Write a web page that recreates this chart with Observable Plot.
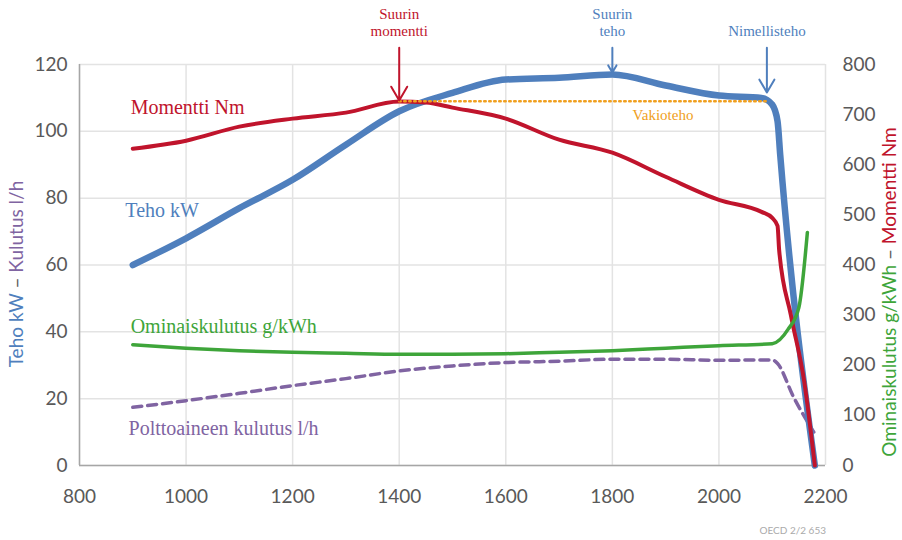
<!DOCTYPE html>
<html><head><meta charset="utf-8">
<script src="https://cdn.jsdelivr.net/npm/d3@7"></script>
<script src="https://cdn.jsdelivr.net/npm/@observablehq/plot@0.6"></script>
<style>body{margin:0;background:#fff} #chart{width:902px;height:540px}</style>
</head><body><div id="chart"></div>
<script>
// ---- data ----
const xTicks = [800, 1000, 1200, 1400, 1600, 1800, 2000, 2200];
const yLeftTicks = [0, 20, 40, 60, 80, 100, 120];
const yRightTicks = [0, 100, 200, 300, 400, 500, 600, 700, 800];

// Teho kW (left axis)
const tehoRpm = [900, 1000, 1100, 1200, 1300, 1400, 1500, 1600, 1700, 1800, 1900, 2000, 2080, 2100, 2110, 2115, 2180];
const tehoKw  = [60, 68, 77, 85.5, 96, 106, 111.5, 115.5, 116, 117, 113.7, 110.7, 110, 108, 103, 93, 0];

// Momentti Nm (right axis)
const momRpm = [900, 1000, 1100, 1200, 1300, 1400, 1450, 1500, 1600, 1700, 1800, 1900, 2000, 2080, 2100, 2110, 2113, 2135, 2160, 2180];
const momNm  = [632, 648, 676, 692, 704, 726, 724, 714, 692, 650, 624, 576, 530, 506, 494, 478, 430, 300, 168, 0];

// Ominaiskulutus g/kWh (right axis)
const omRpm = [900, 1000, 1100, 1200, 1300, 1400, 1500, 1600, 1700, 1800, 1900, 2000, 2100, 2130, 2150, 2166];
const omGkwh = [241, 234, 229, 226, 224, 222, 222, 223, 226, 229, 234, 239, 243, 272, 315, 465];

// Polttoaineen kulutus l/h (left axis)
const fuelRpm = [900, 1000, 1100, 1200, 1300, 1400, 1500, 1600, 1700, 1800, 1900, 2000, 2100, 2110, 2140, 2178];
const fuelLh  = [17.4, 19.4, 21.6, 23.9, 26, 28.3, 29.8, 30.8, 31.2, 31.8, 31.8, 31.5, 31.6, 30.5, 20.5, 10];

// Vakioteho (constant power) reference line
const vakioRpm = [1400, 2090];
const vakioKw = 109;

// series labels
const seriesLabels = ["Momentti Nm", "Teho kW", "Ominaiskulutus g/kWh", "Polttoaineen kulutus l/h"];
const seriesLabelRpm = [896, 886, 896, 892];
const seriesLabelVal = [107.1, 76.3, 41.6, 11.1];
const seriesColors = ["#c0142c", "#4f7fbd", "#3ea53a", "#8064a2"];

// annotations (arrows)
const annoText = ["Suurin\nmomentti", "Suurin\nteho", "Nimellisteho"];
const annoRpm = [1400, 1800, 2090];
const annoTip = [109.2, 117.6, 111.6];
const annoColors = ["#c0142c", "#4f7fbd", "#4f7fbd"];

const k = 120 / 800; // right axis -> left axis units

// ---- build tables ----
const teho = tehoRpm.map((x, i) => ({x, y: tehoKw[i]}));
const mom = momRpm.map((x, i) => ({x, y: momNm[i] * k}));
const om = omRpm.map((x, i) => ({x, y: omGkwh[i] * k}));
const fuel = fuelRpm.map((x, i) => ({x, y: fuelLh[i]}));
const vakio = vakioRpm.map(x => ({x, y: vakioKw}));
const labels = seriesLabels.map((t, i) => ({t, x: seriesLabelRpm[i], y: seriesLabelVal[i], c: seriesColors[i]}));
const annos = annoText.map((t, i) => ({t, x: annoRpm[i], tip: annoTip[i], c: annoColors[i]}));

const tickFont = "Lato, 'Open Sans', sans-serif";
const serif = "'Liberation Serif', 'DejaVu Serif', serif";

const plot = Plot.plot({
  width: 902,
  height: 540,
  marginLeft: 79,
  marginRight: 77,
  marginTop: 64,
  marginBottom: 75,
  style: {fontFamily: tickFont, background: "#fff", overflow: "visible"},
  x: {domain: [800, 2200]},
  y: {domain: [0, 120]},
  marks: [
    Plot.gridX(xTicks, {stroke: "#e3e3e3", strokeOpacity: 1, strokeWidth: 1.5}),
    Plot.gridY(yLeftTicks, {stroke: "#e3e3e3", strokeOpacity: 1, strokeWidth: 1.5}),
    Plot.ruleX([800], {stroke: "#a6a6a6", strokeWidth: 1.5}),
    Plot.ruleY([0], {stroke: "#a6a6a6", strokeWidth: 1.5}),
    Plot.axisX(xTicks, {tickSize: 0, tickPadding: 24, fontSize: 19, fill: "#595959", label: null, tickFormat: d => String(d)}),
    Plot.axisY(yLeftTicks, {anchor: "left", tickSize: 0, tickPadding: 12, fontSize: 19, fill: "#595959", label: null}),
    Plot.axisY(yRightTicks.map(v => v * k), {anchor: "right", tickSize: 0, tickPadding: 17, fontSize: 19, fill: "#595959", label: null, tickFormat: d => String(Math.round(d / k))}),
    Plot.line(fuel, {x: "x", y: "y", stroke: "#8064a2", strokeWidth: 3.5, strokeDasharray: "9,6", curve: "monotone-x"}),
    Plot.line(teho, {x: "x", y: "y", stroke: "#4f7fbd", strokeWidth: 6.5, curve: "monotone-x"}),
    Plot.line(mom, {x: "x", y: "y", stroke: "#c0142c", strokeWidth: 4, curve: "monotone-x"}),
    Plot.line(om, {x: "x", y: "y", stroke: "#3ea53a", strokeWidth: 3.5, curve: "monotone-x"}),
    Plot.line(vakio, {x: "x", y: "y", stroke: "#f0a020", strokeWidth: 2.5, strokeDasharray: "1.5,3.5", strokeLinecap: "round"}),
    Plot.text(["Vakioteho"], {x: [1895], y: [104.7], text: d => d, fill: "#f0a020", fontSize: 15, fontFamily: serif}),
    Plot.text(labels, {x: "x", y: "y", text: "t", fill: "c", textAnchor: "start", fontSize: 20, fontFamily: serif}),
    Plot.arrow(annos, {x1: "x", x2: "x", y1: 125, y2: "tip", stroke: "c", strokeWidth: 2, headLength: 12, bend: 0}),
    Plot.text(annos, {x: "x", y: 128.6, text: "t", fill: "c", lineAnchor: "bottom", lineHeight: 1.1, fontSize: 15, fontFamily: serif})
  ]
});

const svg = d3.select(plot);
// left axis title
const lt = svg.append("text")
  .attr("transform", "translate(23,274) rotate(-90)")
  .attr("text-anchor", "middle")
  .attr("font-family", tickFont)
  .attr("font-size", 19)
  .attr("fill", "#595959");
lt.append("tspan").attr("fill", "#4f7fbd").text("Teho kW");
lt.append("tspan").text(" – ");
lt.append("tspan").attr("fill", "#8064a2").text("Kulutus l/h");
// right axis title
const rt = svg.append("text")
  .attr("transform", "translate(896,292) rotate(-90)")
  .attr("text-anchor", "middle")
  .attr("font-family", tickFont)
  .attr("font-size", 19)
  .attr("fill", "#595959");
rt.append("tspan").attr("fill", "#3ea53a").text("Ominaiskulutus g/kWh");
rt.append("tspan").text(" – ");
rt.append("tspan").attr("fill", "#c0142c").text("Momentti Nm");
// source note
svg.append("text")
  .attr("x", 826).attr("y", 534)
  .attr("text-anchor", "end")
  .attr("font-family", tickFont)
  .attr("font-size", 10)
  .attr("fill", "#aaaaaa")
  .text("OECD 2/2 653");

document.getElementById("chart").appendChild(plot);
</script>
</body></html>
